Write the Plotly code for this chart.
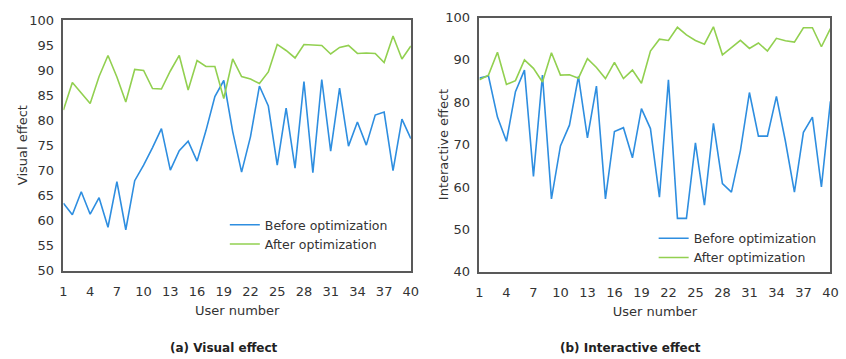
import plotly.graph_objects as go

users = list(range(1, 41))

visual_before = [63.5, 61.2, 65.8, 61.3, 64.6, 58.7, 67.8, 58.2, 68.0, 71.1,
                 74.6, 78.4, 70.1, 74.0, 75.9, 71.9, 78.0, 84.8, 88.0, 77.8,
                 69.7, 76.8, 86.9, 82.9, 71.1, 82.5, 70.5, 87.8, 69.6, 88.2,
                 73.9, 86.5, 74.9, 79.7, 75.1, 81.1, 81.7, 70.0, 80.3, 76.4]
visual_after = [82.1, 87.6, 85.5, 83.4, 88.8, 93.0, 88.7, 83.7, 90.2, 90.0,
                86.4, 86.3, 89.9, 93.0, 86.1, 92.0, 90.8, 90.8, 84.4, 92.3,
                88.8, 88.3, 87.4, 89.7, 95.2, 94.0, 92.5, 95.2, 95.1, 95.0,
                93.3, 94.6, 95.0, 93.4, 93.5, 93.4, 91.6, 96.9, 92.3, 94.9]

inter_before = [85.7, 86.2, 76.5, 70.8, 82.5, 87.6, 62.5, 86.4, 57.2, 69.7,
                74.6, 86.1, 71.6, 83.8, 57.2, 73.1, 74.0, 66.9, 78.5, 73.8,
                57.6, 85.3, 52.6, 52.6, 70.4, 55.7, 75.0, 60.8, 58.8, 68.6,
                82.3, 72.0, 72.0, 81.4, 70.8, 58.8, 72.9, 76.5, 60.0, 80.2]
inter_after = [85.3, 86.4, 91.8, 84.2, 85.1, 90.0, 88.0, 84.8, 91.7, 86.4,
               86.5, 85.7, 90.3, 88.2, 85.6, 89.4, 85.6, 87.6, 84.5, 92.1,
               94.9, 94.6, 97.7, 95.9, 94.6, 93.7, 97.8, 91.2, 92.9, 94.6,
               92.7, 94.0, 92.1, 95.1, 94.5, 94.2, 97.6, 97.6, 93.1, 97.4]

x_ticks = list(range(1, 41, 3))

BLUE = "#2E8EE0"
GREEN = "#92D050"
FRAME = "#595959"
TEXT = "#333333"
FONT = "DejaVu Sans"

W, H = 846, 359

def px_x(p):
    return p / W

def px_y(p):
    return 1 - p / H

fig = go.Figure()

fig.add_trace(go.Scatter(x=users, y=visual_before, mode="lines", name="Before optimization",
                         line=dict(color=BLUE, width=1.6), xaxis="x", yaxis="y", legend="legend"))
fig.add_trace(go.Scatter(x=users, y=visual_after, mode="lines", name="After optimization",
                         line=dict(color=GREEN, width=1.6), xaxis="x", yaxis="y", legend="legend"))
fig.add_trace(go.Scatter(x=users, y=inter_before, mode="lines", name="Before optimization",
                         line=dict(color=BLUE, width=1.6), xaxis="x2", yaxis="y2", legend="legend2"))
fig.add_trace(go.Scatter(x=users, y=inter_after, mode="lines", name="After optimization",
                         line=dict(color=GREEN, width=1.6), xaxis="x2", yaxis="y2", legend="legend2"))

axis_common = dict(showline=True, linecolor=FRAME, linewidth=1.5, mirror=True,
                   showgrid=False, zeroline=False, ticks="",
                   tickfont=dict(family=FONT, size=13, color=TEXT))
title_font = dict(family=FONT, size=13, color=TEXT)

fig.update_layout(
    width=W, height=H,
    margin=dict(l=0, r=0, t=0, b=0),
    paper_bgcolor="white", plot_bgcolor="white",
    font=dict(family=FONT, size=13, color=TEXT),
    xaxis=dict(domain=[px_x(60.3), px_x(412.7)], range=[1, 40], tickvals=x_ticks,
               anchor="y", ticklabelstandoff=8,
               title=dict(text="User number", standoff=8, font=title_font),
               **axis_common),
    yaxis=dict(domain=[px_y(275.3), px_y(14)], range=[50, 100], dtick=5,
               anchor="x", ticklabelstandoff=5, **axis_common),
    xaxis2=dict(domain=[px_x(482.3), px_x(838.3)], range=[1, 40], tickvals=x_ticks,
                anchor="y2", ticklabelstandoff=8,
                title=dict(text="User number", standoff=8, font=title_font),
                **axis_common),
    yaxis2=dict(domain=[px_y(276.3), px_y(11)], range=[40, 100], dtick=10,
                anchor="x2", ticklabelstandoff=5, **axis_common),
    legend=dict(x=px_x(224), y=px_y(212), xanchor="left", yanchor="top",
                bgcolor="rgba(0,0,0,0)", font=dict(family=FONT, size=12.5, color=TEXT),
                tracegroupgap=0, itemwidth=30),
    legend2=dict(x=px_x(659), y=px_y(226), xanchor="left", yanchor="top",
                 bgcolor="rgba(0,0,0,0)", font=dict(family=FONT, size=12.5, color=TEXT),
                 tracegroupgap=0, itemwidth=30),
    showlegend=True,
)

# y-axis titles
fig.add_annotation(text="Visual effect", x=px_x(19.5), y=px_y(144),
                   xref="paper", yref="paper", showarrow=False, textangle=-90,
                   xanchor="center", yanchor="middle", font=title_font)
fig.add_annotation(text="Interactive effect", x=px_x(446.5), y=px_y(144),
                   xref="paper", yref="paper", showarrow=False, textangle=-90,
                   xanchor="center", yanchor="middle", font=title_font)

# captions
fig.add_annotation(text="<b>(a) Visual effect</b>", x=px_x(223), y=px_y(356),
                   xref="paper", yref="paper", showarrow=False,
                   xanchor="center", yanchor="middle",
                   font=dict(family=FONT, size=12, color="#222222"))
fig.add_annotation(text="<b>(b) Interactive effect</b>", x=px_x(636), y=px_y(356),
                   xref="paper", yref="paper", showarrow=False,
                   xanchor="center", yanchor="middle",
                   font=dict(family=FONT, size=12, color="#222222"))

fig.write_html("out.html")
